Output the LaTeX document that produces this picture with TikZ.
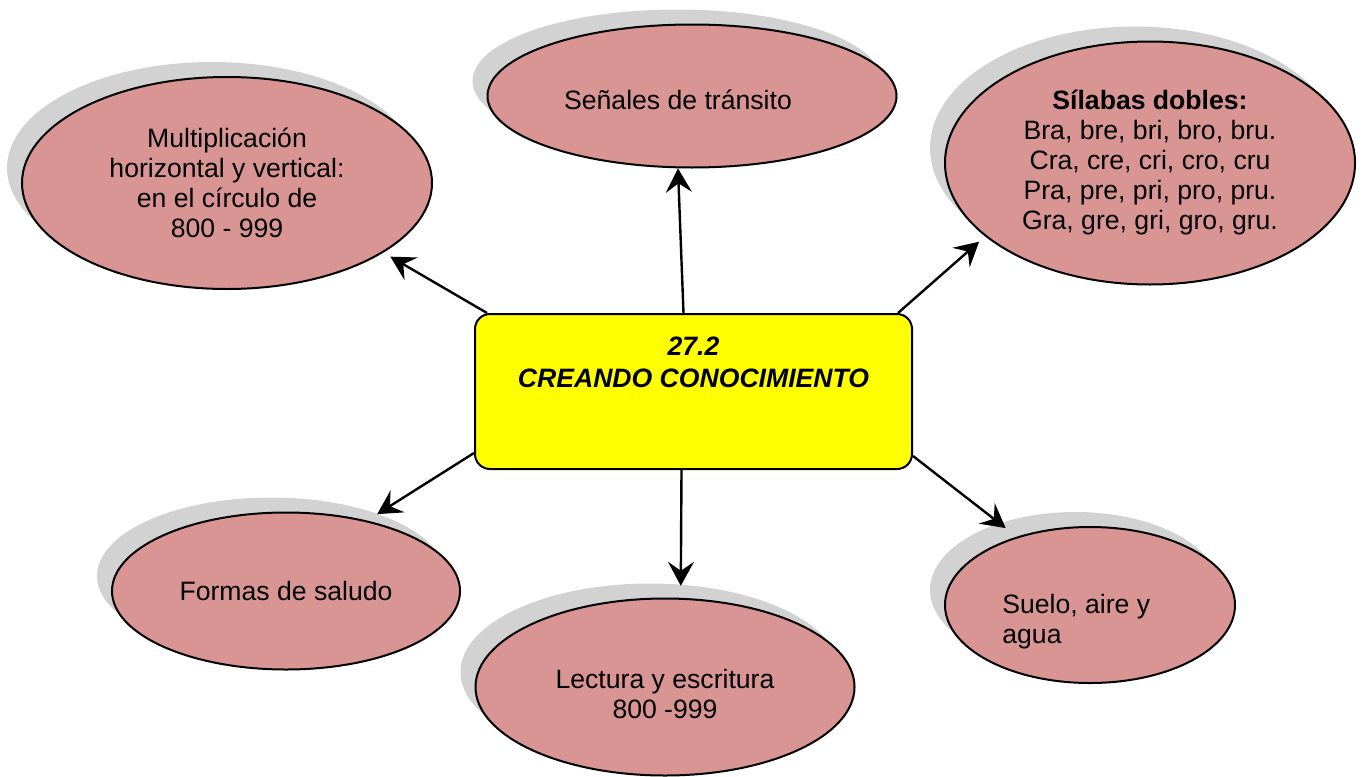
\documentclass[tikz,border=0pt]{standalone}
\usepackage{fontspec}
\setmainfont{Liberation Sans}
\usetikzlibrary{positioning,shapes.geometric,shadows,arrows.meta}
\definecolor{blobpink}{RGB}{217,149,148}
\definecolor{blobshade}{RGB}{210,210,210}
\definecolor{hubyellow}{RGB}{255,255,0}
\tikzset{
  blob/.style={ellipse, draw=black, line width=1pt, fill=blobpink, inner sep=0pt, align=center,
    font=\fontsize{13.3pt}{15pt}\selectfont,
    drop shadow={shadow xshift=-7.5pt, shadow yshift=7.5pt, fill=blobshade, opacity=1}},
  hub/.style={rectangle, rounded corners=7.5pt, draw=black, line width=1pt, fill=hubyellow,
    minimum width=218.5pt, minimum height=77.5pt},
  hubtxt/.style={inner sep=0pt, align=center, font=\fontsize{13.3pt}{16pt}\selectfont\bfseries\itshape},
  lbl/.style={inner sep=0pt, align=center, font=\fontsize{13.3pt}{15pt}\selectfont},
  link/.style={-{Stealth[length=12pt,width=13pt,inset=4.5pt]}, line width=1.2pt},
}
\begin{document}
\begin{tikzpicture}[x=0.5pt, y=-0.5pt]
  \useasboundingbox (0,0) rectangle (1364,776);

  \node[blob, minimum width=205pt, minimum height=106pt] (multi) at (227,183)
    {Multiplicación\\horizontal y vertical:\\en el círculo de\\800 - 999};
  \node[blob, minimum width=204.5pt, minimum height=71.5pt] (senales) at (692,96) {};
  \node[lbl, xshift=-7pt, yshift=-2pt] (senalestxt) at (senales.center) {Señales de tránsito};
  \node[blob, minimum width=205pt, minimum height=121.5pt] (silabas) at (1150,163)
    {\textbf{Sílabas dobles:}\\Bra, bre, bri, bro, bru.\\Cra, cre, cri, cro, cru\\Pra, pre, pri, pro, pru.\\Gra, gre, gri, gro, gru.};
  \node[blob, minimum width=174pt, minimum height=78.5pt] (formas) at (286,591)
    {Formas de saludo};
  \node[blob, minimum width=189.5pt, minimum height=88.5pt] (lectura) at (665,687) {};
  \node[lbl, yshift=-3.5pt] (lecturatxt) at (lectura.center) {Lectura y escritura\\800 -999};
  \node[blob, minimum width=145pt, minimum height=78pt] (suelo) at (1090,605) {};
  \node[lbl, align=left, right=29pt of suelo.west, yshift=-8.5pt] (suelotxt) {Suelo, aire y\\agua};

  \node[hub] (hub) at (693.5,391.5) {};
  \node[hubtxt, below=12pt of hub.north] (hubtitle) {27.2\\CREANDO CONOCIMIENTO};

  \draw[link, shorten >=4pt] ([xshift=6.5pt]hub.north west) -- (multi.-24);
  \draw[link] ([xshift=-5pt]hub.north) -- (senales.-101);
  \draw[link, shorten >=4pt] ([xshift=-7.5pt]hub.north east) -- (silabas.-156);
  \draw[link, shorten >=6pt] ([yshift=8.5pt]hub.south west) -- (formas.41);
  \draw[link, shorten >=6pt] ([xshift=-6pt]hub.south) -- (lectura.80);
  \draw[link, shorten >=7pt] ([yshift=7pt]hub.south east) -- (suelo.137);
\end{tikzpicture}
\end{document}
